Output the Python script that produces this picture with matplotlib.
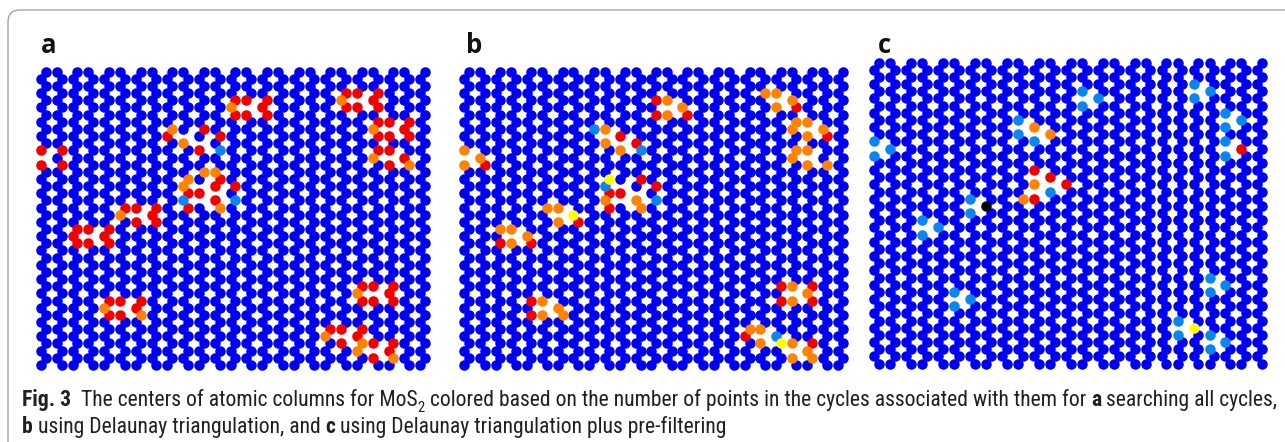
import matplotlib
matplotlib.use("Agg")
import matplotlib.pyplot as plt
from matplotlib.patches import FancyBboxPatch
from matplotlib import font_manager as fm
import numpy as np

# ---------------- data (lattice indices: (chain, row)) ----------------
n_chains = 25
rows_a, rows_b, rows_c = 42, 42, 43

vacancies = [(13, 5), (20, 4), (22, 8), (22, 12), (0, 12), (9, 9), (10, 10),
             (10, 16), (11, 17), (10, 18), (6, 20), (3, 23), (5, 33), (21, 31),
             (19, 37), (21, 39)]

a_red = [(12, 4), (12, 6), (13, 4), (13, 6), (14, 4), (14, 5), (14, 6),
         (19, 3), (19, 5), (20, 3), (20, 5), (21, 3), (21, 4), (21, 5),
         (21, 7), (22, 7), (23, 7), (23, 8), (21, 9), (22, 9), (23, 9),
         (21, 11), (22, 11), (22, 13), (23, 12),
         (0, 11), (0, 13), (1, 11), (1, 13),
         (5, 19), (6, 19), (6, 21), (7, 19), (7, 20), (7, 21),
         (2, 22), (3, 22), (2, 23), (4, 22), (4, 23), (2, 24), (3, 24), (4, 24),
         (4, 32), (5, 32), (4, 34), (5, 34), (6, 32), (6, 33),
         (20, 30), (21, 30), (20, 32), (21, 32), (22, 30), (22, 31), (22, 32),
         (18, 36), (19, 36), (19, 38), (20, 36), (20, 37),
         (21, 38), (21, 40), (22, 38), (22, 39),
         (8, 9), (10, 8), (11, 9), (10, 11), (11, 15), (11, 16), (12, 16),
         (9, 17), (10, 17), (11, 18), (9, 19)]
a_orange = [(12, 5), (19, 4), (21, 8), (21, 12), (23, 13), (5, 20), (4, 33),
            (6, 34), (20, 31), (18, 37), (20, 38), (20, 39), (22, 40), (8, 8),
            (9, 10), (10, 14), (11, 14), (9, 15), (9, 16), (11, 19)]
a_lightblue = [(11, 11), (9, 18), (12, 18)]

b_red = [(12, 4), (12, 6), (14, 6), (21, 5), (23, 9), (1, 13), (10, 9), (11, 10),
         (11, 15), (12, 16), (9, 17), (10, 17), (9, 19), (7, 21), (2, 24), (4, 24),
         (4, 32), (4, 34), (20, 30), (22, 30), (20, 32), (22, 32), (18, 37), (22, 38)]
b_orange = [(13, 4), (13, 6), (14, 5), (19, 3), (20, 3), (20, 5), (21, 4), (21, 7),
            (22, 7), (21, 8), (23, 8), (22, 9), (21, 11), (22, 11), (21, 12), (22, 13),
            (23, 13), (0, 11), (0, 13), (1, 12), (9, 8), (9, 10), (10, 11), (9, 18),
            (11, 18), (11, 19), (5, 19), (6, 19), (6, 21), (2, 22), (3, 22), (3, 24),
            (4, 23), (5, 32), (5, 34), (6, 33), (6, 34), (21, 30), (22, 31), (21, 32),
            (18, 36), (19, 36), (19, 38), (21, 38), (22, 39), (21, 40), (22, 40)]
b_lightblue = [(8, 8), (11, 11), (9, 16), (12, 18), (20, 37)]
b_yellow = [(9, 15), (7, 20), (20, 38)]

c_lightblue = [(13, 4), (13, 6), (14, 5), (20, 3), (21, 4), (20, 5), (22, 7), (23, 8),
               (22, 9), (22, 11), (22, 13), (0, 11), (1, 12), (0, 13), (9, 8), (9, 10),
               (10, 11), (11, 18), (6, 19), (6, 21), (3, 22), (4, 23), (3, 24), (5, 32),
               (6, 33), (5, 34), (21, 30), (22, 31), (21, 32), (19, 36), (19, 38),
               (21, 38), (22, 39), (21, 40)]
c_orange = [(10, 9), (11, 10), (10, 17), (9, 19)]
c_red = [(23, 12), (10, 15), (11, 16), (12, 17), (10, 19)]
c_yellow = [(20, 37)]
c_black = [(7, 20)]

panel_labels = ["a", "b", "c"]
caption_line1 = [("Fig. 3", "bold"), ("  The centers of atomic columns for MoS", "normal"),
                 ("2", "sub"),
                 (" colored based on the number of points in the cycles associated with them for ", "normal"),
                 ("a", "bold"), (" searching all cycles,", "normal")]
caption_line2 = [("b", "bold"), (" using Delaunay triangulation, and ", "normal"),
                 ("c", "bold"), (" using Delaunay triangulation plus pre-filtering", "normal")]

# ---------------- styling ----------------
W, H, DPI = 1285, 442, 100
COL = {"blue": "#0000f0", "red": "#f20000", "orange": "#ff8200",
       "lightblue": "#0b86ee", "yellow": "#ffff00", "black": "#000000"}
DOT_PX = 10.5
AMP_PX = 2.4

names = {f.name for f in fm.fontManager.ttflist}
cap_font = next((f for f in ["Liberation Sans Narrow", "Roboto Condensed", "Open Sans",
                             "Roboto", "DejaVu Sans"] if f in names), "DejaVu Sans")
lab_font = next((f for f in ["Open Sans", "Noto Sans", "DejaVu Sans"] if f in names), "DejaVu Sans")

fig = plt.figure(figsize=(W / DPI, H / DPI), dpi=DPI)
fig.patch.set_facecolor("white")

# frame with rounded top-left corner
frame = FancyBboxPatch((0.08, -1.0), 14.0, (H - 10) / DPI + 1.0,
                       boxstyle="round,pad=0,rounding_size=0.12",
                       transform=fig.dpi_scale_trans, facecolor="none",
                       edgecolor="#9b9b9b", linewidth=0.9, zorder=0)
fig.patches.append(frame)

geoms = [dict(x0=43.3, dx=15.8, y0=71.7, dy=7.15, rows=rows_a, lx=41, ly=53),
         dict(x0=466.75, dx=15.58, y0=71.7, dy=7.15, rows=rows_b, lx=466, ly=53),
         dict(x0=876.75, dx=15.96, y0=62.5, dy=7.17, rows=rows_c, lx=878, ly=53)]
colorsets = [
    [("red", a_red), ("orange", a_orange), ("lightblue", a_lightblue)],
    [("red", b_red), ("orange", b_orange), ("lightblue", b_lightblue), ("yellow", b_yellow)],
    [("red", c_red), ("orange", c_orange), ("lightblue", c_lightblue), ("yellow", c_yellow),
     ("black", c_black)],
]

s_pt = (DOT_PX * 72 / DPI) ** 2
vac = set(vacancies)

for g, cset, lab in zip(geoms, colorsets, panel_labels):
    left = g["x0"] - 0.5 * g["dx"]
    right = g["x0"] + (n_chains - 0.5) * g["dx"]
    top = g["y0"] - 0.5 * g["dy"]
    bottom = g["y0"] + (g["rows"] - 0.5) * g["dy"]
    ax = fig.add_axes([left / W, 1 - bottom / H, (right - left) / W, (bottom - top) / H])
    ax.set_xlim(-0.5, n_chains - 0.5)
    ax.set_ylim(g["rows"] - 0.5, -0.5)
    ax.axis("off")
    ax.patch.set_alpha(0)
    amp = AMP_PX / g["dx"]

    def xy(pts):
        k = np.array([p[0] for p in pts], float)
        r = np.array([p[1] for p in pts], float)
        sign = np.where((k + r) % 2 == 0, 1.0, -1.0)
        return k + sign * amp, r

    colored = set()
    for _, pts in cset:
        colored |= set(pts)
    blue = [(k, r) for k in range(n_chains) for r in range(g["rows"])
            if (k, r) not in vac and (k, r) not in colored]
    bx, by = xy(blue)
    ax.scatter(bx, by, s=s_pt, c=COL["blue"], linewidths=0, zorder=2, clip_on=False)
    for cname, pts in cset:
        pts = [p for p in pts if p[1] < g["rows"]]
        if not pts:
            continue
        cx, cy = xy(pts)
        ax.scatter(cx, cy, s=s_pt, c=COL[cname], linewidths=0, zorder=3, clip_on=False)

    fig.text(g["lx"] / W, 1 - g["ly"] / H, lab, fontsize=18.5, fontweight="bold",
             family=lab_font, ha="left", va="baseline", color="#111111")

# ---------------- caption ----------------
renderer = fig.canvas.get_renderer()
CAP_COLOR = "#231f20"


def width_of(txt, size, weight):
    t = fig.text(0, 0, txt, fontsize=size, fontweight=weight, family=cap_font)
    w = t.get_window_extent(renderer).width
    t.remove()
    return w


def place(pieces, x_px, y_px, size, draw=True):
    x = x_px
    sp = {wt: width_of("x x", size, wt) - width_of("xx", size, wt) for wt in ("normal", "bold")}
    for txt, style in pieces:
        wt = "bold" if style == "bold" else "normal"
        fs = size * 0.68 if style == "sub" else size
        dy = size * 0.28 * DPI / 72 if style == "sub" else 0.0
        lead = len(txt) - len(txt.lstrip(" "))
        trail = len(txt) - len(txt.rstrip(" "))
        core = txt.strip(" ")
        x += lead * sp[wt]
        if core:
            if draw:
                fig.text(x / W, 1 - (y_px + dy) / H, core, fontsize=fs, fontweight=wt,
                         family=cap_font, ha="left", va="baseline", color=CAP_COLOR)
            x += width_of(core, fs, wt)
        x += trail * sp[wt]
    return x


base = 10.0
w1 = place(caption_line1, 0, 0, base, draw=False)
size = base * (1271 - 22) / w1
place(caption_line1, 22, 406, size)
place(caption_line2, 22, 433, size)

fig.savefig("out.png", dpi=DPI, facecolor="white")
